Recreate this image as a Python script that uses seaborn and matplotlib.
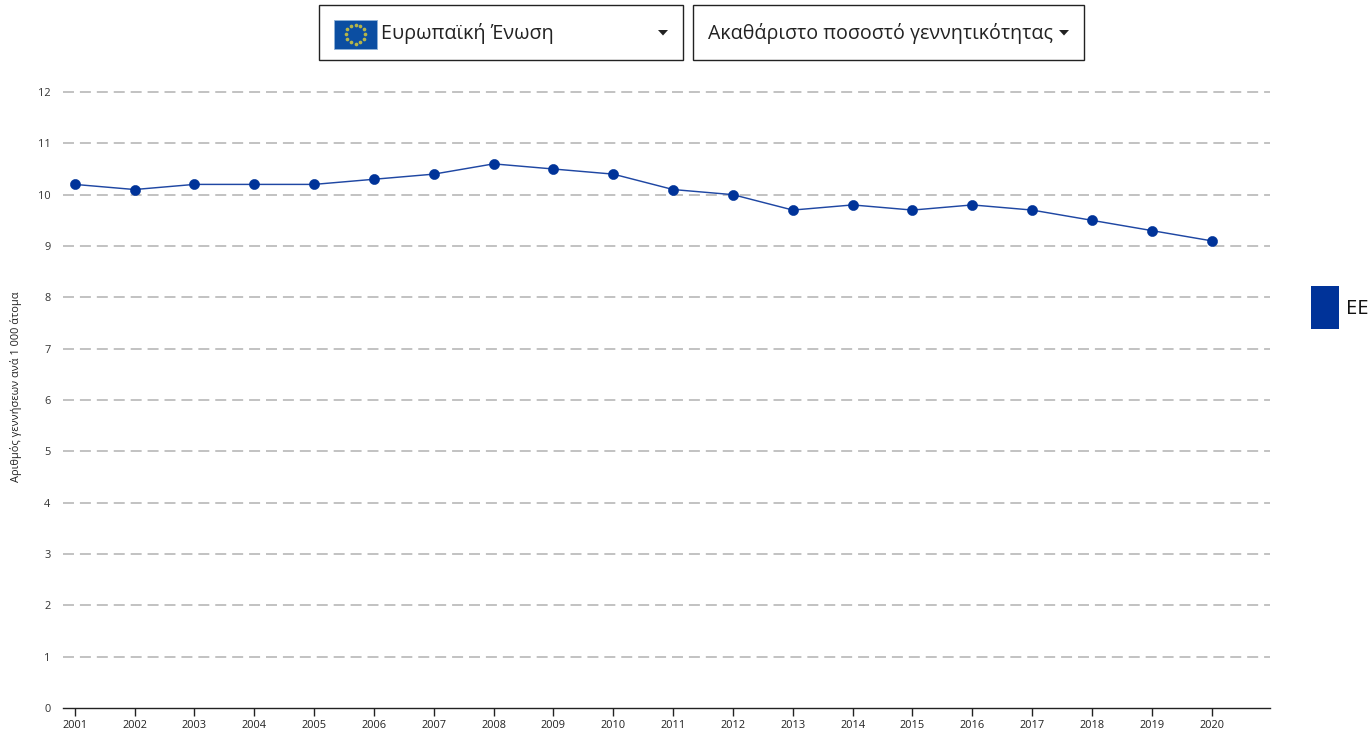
import numpy as np
import pandas as pd
import matplotlib
matplotlib.use("Agg")
import matplotlib.pyplot as plt
from matplotlib.patches import Rectangle, Polygon
import seaborn as sns

years = list(range(2001, 2021))
rates = [10.2, 10.1, 10.2, 10.2, 10.2, 10.3, 10.4, 10.6, 10.5, 10.4,
         10.1, 10.0, 9.7, 9.8, 9.7, 9.8, 9.7, 9.5, 9.3, 9.1]
y_ticks = list(range(0, 13))
y_label = "Αριθμός γεννήσεων ανά 1 000 άτομα"
legend_label = "ΕΕ"
country_text = "Ευρωπαϊκή Ένωση"
indicator_text = "Ακαθάριστο ποσοστό γεννητικότητας"
BLUE = "#003399"

sns.set_theme(style="white")
plt.rcParams["font.family"] = ["Open Sans", "Noto Sans", "DejaVu Sans"]

W, H = 1369, 730
fig = plt.figure(figsize=(W / 100, H / 100), dpi=100, facecolor="white")
ax = fig.add_axes([63 / W, 1 - 708 / H, (1270 - 63) / W, (708 - 92) / H])

df = pd.DataFrame({"year": years, "rate": rates})
sns.lineplot(data=df, x="year", y="rate", ax=ax, color="#1f47a3", linewidth=1.05,
             marker="o", markersize=7.3, markerfacecolor=BLUE,
             markeredgecolor=BLUE, markeredgewidth=0.4, zorder=5, clip_on=False)

ax.set_xlim(2001 - 11.7 / 59.84, 2020 + 58.3 / 59.84)
ax.set_ylim(0, 12)
ax.set_xticks(years)
ax.set_xticklabels([str(y) for y in years])
ax.set_yticks(y_ticks)
ax.set_xlabel("")
ax.set_ylabel("")
ax.tick_params(axis="x", length=6, width=1, color="#222222", labelsize=7.9,
               labelcolor="#222222", pad=3, bottom=True)
ax.tick_params(axis="y", length=0, labelsize=7.9, labelcolor="#333333", pad=9)
for side in ["top", "right", "left"]:
    ax.spines[side].set_visible(False)
ax.spines["bottom"].set_color("#222222")
ax.spines["bottom"].set_linewidth(1)
ax.patch.set_alpha(0)
for v in y_ticks[1:]:
    ax.axhline(v, color="#c2c2c2", linewidth=1.4, dashes=(5.65, 3.05), zorder=1, clip_on=False)

fig.text(16 / W, 1 - 387 / H, y_label, rotation=90, ha="center", va="center",
         fontsize=7.9, color="#222222")

# overlay in pixel coordinates for the controls and the legend
ov = fig.add_axes([0, 0, 1, 1], zorder=10)
ov.set_xlim(0, W)
ov.set_ylim(H, 0)
ov.axis("off")
ov.patch.set_alpha(0)

for x0, x1 in [(319, 683), (693, 1084)]:
    ov.add_patch(Rectangle((x0, 5), x1 - x0, 55, facecolor="white", edgecolor="#222222", linewidth=1))

# flag
ov.add_patch(Rectangle((334, 19.5), 43, 29, facecolor="#0b4ea2", edgecolor="#8fb2d8", linewidth=0.6))
ang = np.arange(12) * np.pi / 6
ov.scatter(355.5 + 9.5 * np.cos(ang), 34 + 9.5 * np.sin(ang), s=7, color="#b5b54a", marker="o", linewidths=0)

ov.text(381, 33.5, country_text, fontsize=14.2, color="#222222", va="center", ha="left")
ov.text(708, 34, indicator_text, fontsize=14.15, color="#222222", va="center", ha="left")
for cx in (663, 1064):
    ov.add_patch(Polygon([(cx - 5, 30), (cx + 5, 30), (cx, 35.5)], closed=True, facecolor="#222222", edgecolor="none"))

# legend
ov.add_patch(Rectangle((1311, 285.5), 27.5, 43.5, facecolor=BLUE, edgecolor="none"))
ov.text(1345.5, 309, legend_label, fontsize=14.6, color="#111111", va="center", ha="left")

fig.savefig("out.png", dpi=100, facecolor="white")
